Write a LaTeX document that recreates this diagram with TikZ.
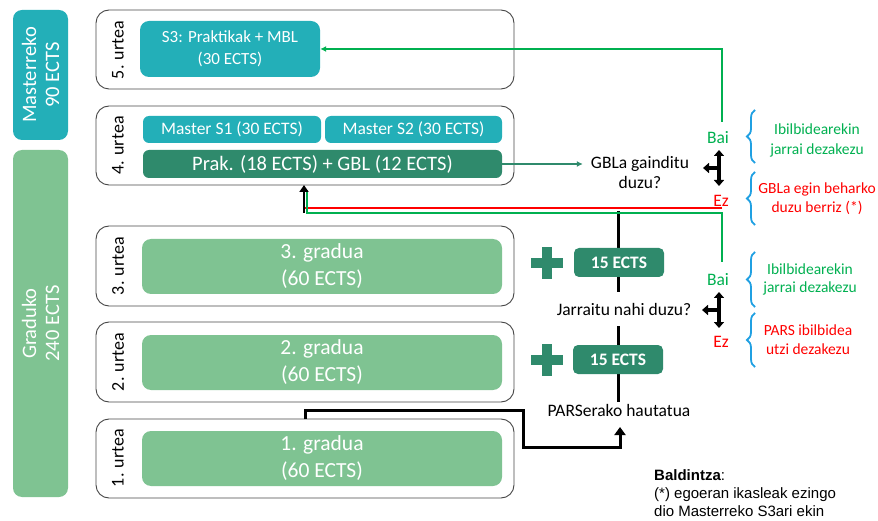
\documentclass[tikz,border=0pt]{standalone}
\usepackage{fontspec}
\setmainfont{Carlito}
\newfontfamily\arialf{Liberation Sans}
\usetikzlibrary{arrows.meta,decorations.pathreplacing}
\pgfdeclarelayer{bg}
\pgfsetlayers{bg,main}
\definecolor{tealc}{RGB}{35,175,184}
\definecolor{lgreen}{RGB}{127,195,146}
\definecolor{dgreen}{RGB}{47,138,108}
\definecolor{okgreen}{RGB}{0,176,80}
\definecolor{okred}{RGB}{255,0,0}
\definecolor{braceblue}{RGB}{32,160,226}
\definecolor{framegray}{RGB}{70,70,70}
\newcommand\myfs[2]{\fontsize{#1}{#2}\selectfont}
\begin{document}
\begin{tikzpicture}[x=1pt,y=-1pt,
  sidebox/.style={rotate=90, rounded corners=9pt, inner sep=0pt, text=white, align=center, minimum height=55pt, font=\myfs{20.5}{23}},
  yearframe/.style={draw=framegray, line width=0.9pt, rounded corners=13pt, minimum width=418pt, minimum height=79pt, inner sep=0pt},
  yearlabel/.style={rotate=90, inner sep=0pt, font=\myfs{18}{20}},
  tealbox/.style={fill=tealc, rounded corners=6pt, text=white, inner sep=0pt, align=center},
  gradbox/.style={fill=lgreen, rounded corners=9pt, text=white, inner sep=0pt, align=center, minimum width=360pt, minimum height=55pt, font=\myfs{21.5}{27}},
  ectsbox/.style={fill=dgreen, rounded corners=5pt, text=white, inner sep=0pt, minimum width=90pt, minimum height=29pt, font=\myfs{17.5}{20}\bfseries},
  plain/.style={inner sep=2pt, align=center, font=\myfs{17.5}{20}},
  outtext/.style={inner sep=0pt, align=center, font=\myfs{15.5}{19}},
  bracestyle/.style={braceblue, line width=1.8pt, decorate, decoration={brace, amplitude=8pt}},
  forkline/.style={line width=3.5pt},
  tipT/.style={-{Triangle[length=6pt,width=10pt]}},
  blackline/.style={line width=3pt},
]
\useasboundingbox (0,0) rectangle (878,521);

% side boxes
\node[sidebox, fill=tealc, minimum width=130pt] (mside) at (40.5,75) {Masterreko\\90 ECTS};
\node[sidebox, fill=lgreen, minimum width=347pt] (gside) at (40.5,323.5) {Graduko\\240 ECTS};

% year frames
\node[yearframe] (f5) at (305,49.5) {};
\node[yearframe] (f4) at (305,145.5) {};
\node[yearframe, minimum height=80pt] (f3) at (305,266) {};
\node[yearframe, minimum height=80pt] (f2) at (305,362) {};
\node[yearframe] (f1) at (305,458.5) {};
\node[yearlabel] (l5) at (118,50) {5. urtea};
\node[yearlabel] (l4) at (118,145.5) {4. urtea};
\node[yearlabel] (l3) at (118,266) {3. urtea};
\node[yearlabel] (l2) at (118,362) {2. urtea};
\node[yearlabel] (l1) at (118,458) {1. urtea};

% inner boxes
\node[tealbox, minimum width=180pt, minimum height=56pt, rounded corners=9pt, font=\myfs{17}{22}] (s3) at (230,49) {S3: Praktikak + MBL\\(30 ECTS)};
\node[tealbox, minimum width=178pt, minimum height=27pt, font=\myfs{17.5}{20}] (ms1) at (232,129.5) {Master S1 (30 ECTS)};
\node[tealbox, minimum width=177pt, minimum height=27pt, font=\myfs{17.5}{20}] (ms2) at (413.5,129.5) {Master S2 (30 ECTS)};
\node[tealbox, fill=dgreen, minimum width=359pt, minimum height=28pt, font=\myfs{20.5}{24}] (prak) at (322.5,164) {Prak. (18 ECTS) + GBL (12 ECTS)};
\node[gradbox] (g3) at (322,266.5) {3. gradua\\(60 ECTS)};
\node[gradbox] (g2) at (322,362.5) {2. gradua\\(60 ECTS)};
\node[gradbox] (g1) at (322,458.5) {1. gradua\\(60 ECTS)};

% plus signs
\fill[dgreen] (531,258) rectangle (563,268);
\fill[dgreen] (542,247) rectangle (552,279);
\fill[dgreen] (531,355) rectangle (563,365);
\fill[dgreen] (542,344) rectangle (552,376);

% ECTS boxes
\node[ectsbox] (e1) at (619,262.5) {15 ECTS};
\node[ectsbox] (e2) at (618,359.5) {15 ECTS};

% questions
\node[plain] (gq) at (640,172) {GBLa gainditu\\duzu?};
\node[plain, inner ysep=11pt] (jq) at (624,309) {Jarraitu nahi duzu?};
\node[plain] (pq) at (619,410) {PARSerako hautatua};

% Bai / Ez
\node[plain, text=okgreen] (bai1) at (718,138) {Bai};
\node[plain, text=okred] (ez1) at (721,201) {Ez};
\node[plain, text=okgreen] (bai2) at (718,280) {Bai};
\node[plain, text=okred] (ez2) at (721,342) {Ez};

% outcomes
\node[outtext, text=okgreen, font=\myfs{15.5}{20}] (o1) at (817,140) {Ibilbidearekin\\jarrai dezakezu};
\node[outtext, text=okred] (o2) at (817,199) {GBLa egin beharko\\duzu berriz (*)};
\node[outtext, text=okgreen, font=\myfs{15.5}{18}] (o3) at (810,279) {Ibilbidearekin\\jarrai dezakezu};
\node[outtext, text=okred] (o4) at (808,339.5) {PARS ibilbidea\\utzi dezakezu};

% condition
\node[anchor=north west, align=left, inner sep=0pt, font=\arialf\myfs{15}{18}] (cond) at (654,469) {\textbf{Baldintza}:\\(*) egoeran ikasleak ezingo\\dio Masterreko S3ari ekin};

% braces
\draw[bracestyle] (755,163) -- (755,110);
\draw[bracestyle] (755,225) -- (755,172);
\draw[bracestyle] (755,307) -- (755,252);
\draw[bracestyle] (755,367) -- (755,313);

% coordinates
\coordinate (baiTop) at (722,122);
\coordinate (ezA) at (722,208);
\coordinate (bai2Top) at (722,262);
\coordinate (t4) at (304,185);
\coordinate (vTop) at (618,211);
\coordinate (pStart) at (305,419);
\coordinate (pEnd) at (620,427);

% connectors
\draw[okgreen, line width=1.6pt, -{Latex[length=6pt,width=6pt]}] (baiTop) |- (s3.east);
\draw[dgreen, line width=2.2pt, -{Latex[length=6pt,width=6pt]}, shorten >=6pt] (prak.east) -- (gq.west |- prak.east);
\draw[okred, line width=2pt] (ezA) -- (t4 |- ezA);
\draw[okgreen, line width=2pt] (bai2Top) -- (722,213) -- (307,213) -- (307,190);
\draw[line width=2.2pt, -{Triangle[length=7pt,width=9pt]}] (304,213) -- (t4);

\begin{pgfonlayer}{bg}
\draw[blackline] (vTop) -- (jq.north -| vTop);
\draw[blackline] (jq.south -| vTop) -- (618,402);
\end{pgfonlayer}
\draw[blackline, -{Triangle[length=8pt,width=11pt]}] (pStart) |- (523,410) |- (620,447) -- (pEnd);

% forks
\draw[forkline, {Triangle[length=6pt,width=10pt]}-{Triangle[length=6pt,width=10pt]}] (719,150) -- (719,186);
\draw[forkline, tipT] (719,168) -- (703,168);
\draw[forkline, {Triangle[length=6pt,width=10pt]}-{Triangle[length=6pt,width=10pt]}] (719,292) -- (719,328);
\draw[forkline, tipT] (719,310) -- (702,310);
\end{tikzpicture}
\end{document}
